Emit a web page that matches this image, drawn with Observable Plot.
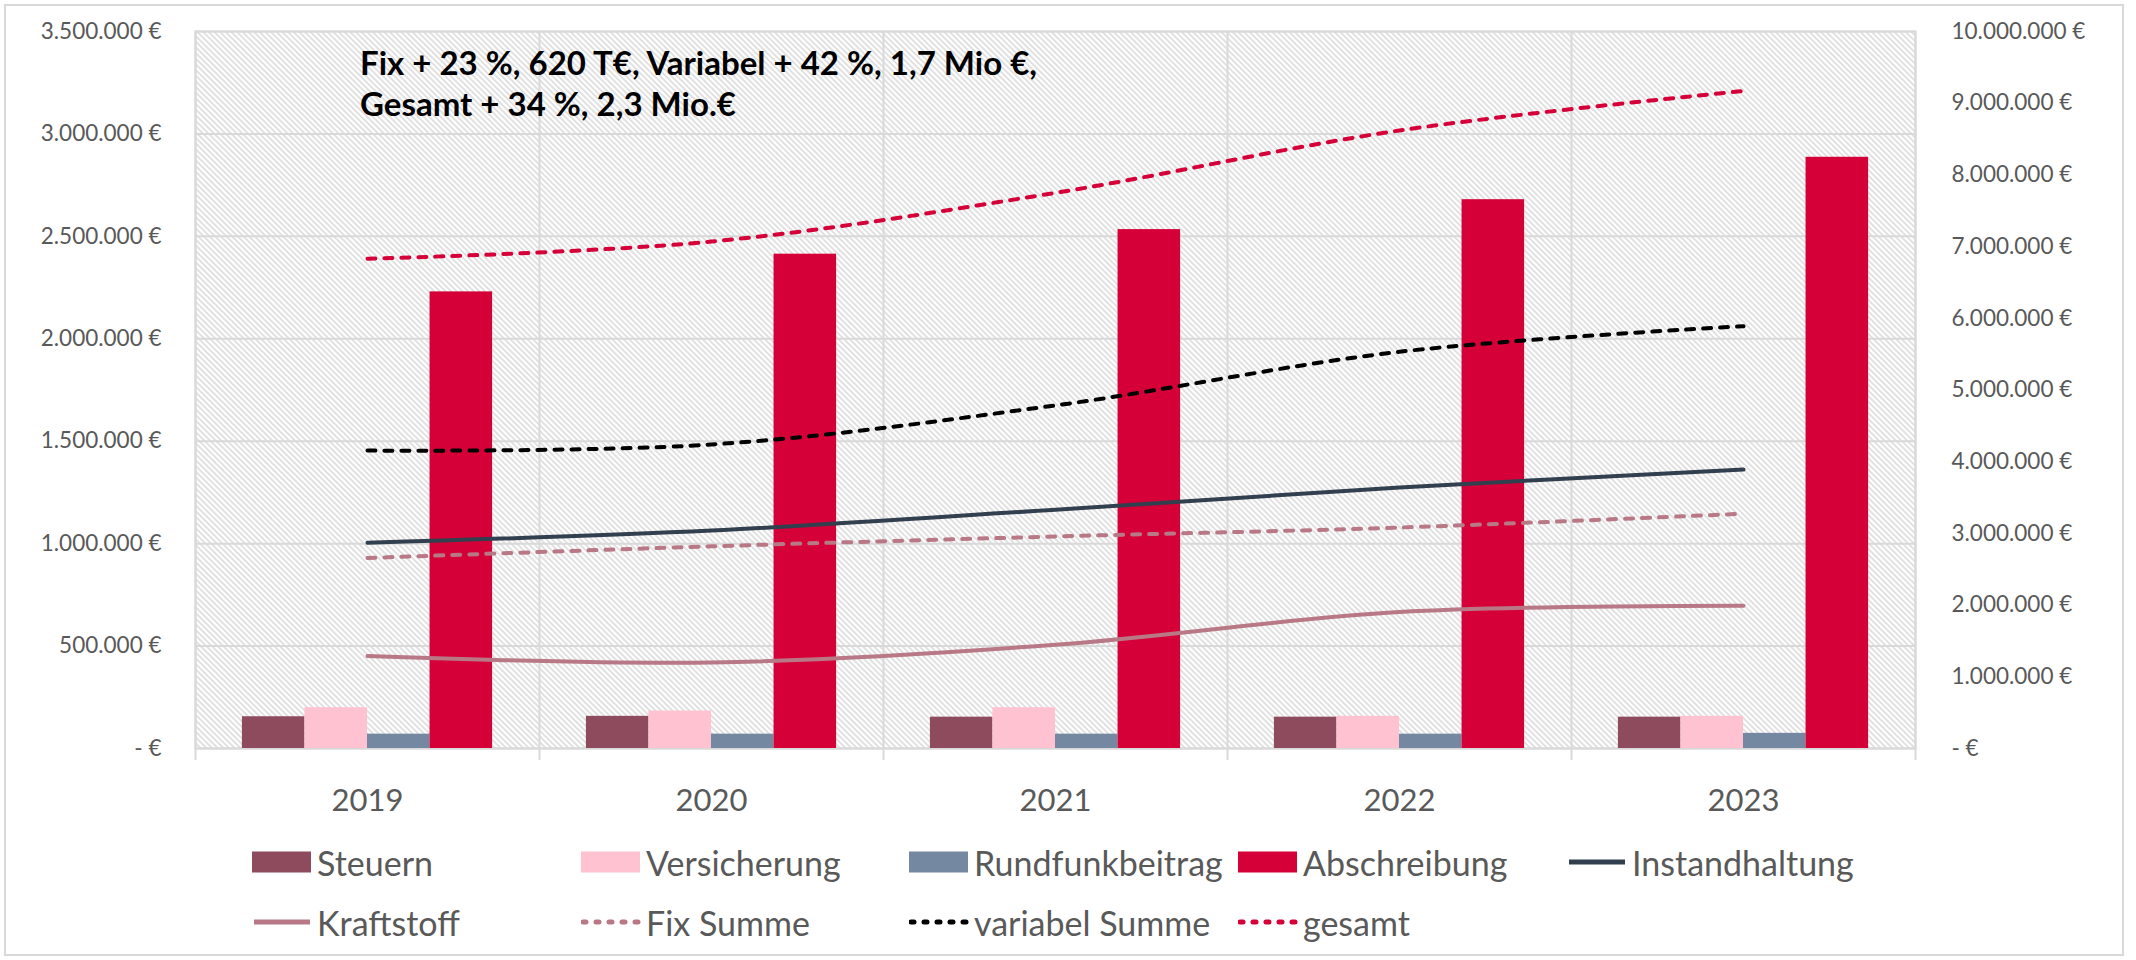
<!DOCTYPE html>
<html>
<head>
<meta charset="utf-8">
<script src="https://cdn.jsdelivr.net/npm/d3@7"></script>
<script src="https://cdn.jsdelivr.net/npm/@observablehq/plot@0.6"></script>
<style>
  body { margin: 0; background: #fff; }
  #chart { position: relative; width: 2136px; height: 960px; font-family: Lato, "Open Sans", sans-serif; overflow: hidden; }
  #border { position: absolute; left: 4px; top: 4px; width: 2120px; height: 952px; border: 2px solid #d9d9d9; box-sizing: border-box; }
  #plot { position: absolute; left: 0; top: 0; }
  #title { position: absolute; left: 360px; top: 42px; font-family: Lato, sans-serif; font-weight: bold; font-size: 33px; line-height: 41px; color: #000; white-space: nowrap; }
  .item { position: absolute; display: flex; align-items: center; height: 40px; font-size: 34px; color: #595959; white-space: nowrap; }
  .item svg { margin-right: 5px; flex: none; }
</style>
</head>
<body>
<div id="chart">
  <div id="border"></div>
  <div id="plot"></div>
  <div id="title">Fix + 23 %, 620 T€, Variabel + 42 %, 1,7 Mio €,<br>Gesamt + 34 %, 2,3 Mio.€</div>
  <div id="legend"></div>
</div>
<script>
// ---- data ----
const years = ["2019", "2020", "2021", "2022", "2023"];
// bars, left axis (€)
const steuern         = [155000, 157000, 153000, 153000, 153000];
const versicherung    = [199000, 183000, 199000, 157000, 157000];
const rundfunkbeitrag = [70000, 70000, 70000, 70000, 74000];
const abschreibung    = [2229000, 2413000, 2533000, 2679000, 2886000];
// lines, right axis (€)
const instandhaltung  = [2870000, 3040000, 3330000, 3640000, 3890000];
const kraftstoff      = [1290000, 1200000, 1447000, 1903000, 1990000];
const fixSumme        = [2657000, 2820000, 2957000, 3082000, 3275000];
const variabelSumme   = [4155000, 4240000, 4785000, 5533000, 5890000];
const gesamt          = [6830000, 7070000, 7750000, 8620000, 9170000];
// axis ticks
const leftTicks  = [0, 500000, 1000000, 1500000, 2000000, 2500000, 3000000, 3500000];
const rightTicks = [0, 1000000, 2000000, 3000000, 4000000, 5000000, 6000000, 7000000, 8000000, 9000000, 10000000];

// ---- styles ----
const barSeries = [
  {name: "Steuern", values: steuern, color: "#8E4B5E"},
  {name: "Versicherung", values: versicherung, color: "#FFC2D1"},
  {name: "Rundfunkbeitrag", values: rundfunkbeitrag, color: "#7489A1"},
  {name: "Abschreibung", values: abschreibung, color: "#D50037"}
];
const lineSeries = [
  {name: "Instandhaltung", values: instandhaltung, color: "#323F4F", dash: null},
  {name: "Kraftstoff", values: kraftstoff, color: "#B87885", dash: null},
  {name: "Fix Summe", values: fixSumme, color: "#B87885", dash: "8,9"},
  {name: "variabel Summe", values: variabelSumme, color: "#000000", dash: "8,9"},
  {name: "gesamt", values: gesamt, color: "#D50037", dash: "8,9"}
];

const leftMax = d3.max(leftTicks), rightMax = d3.max(rightTicks);
const ratio = leftMax / rightMax; // maps secondary axis onto primary scale
const de = d3.formatLocale({decimal: ",", thousands: ".", grouping: [3], currency: ["", " €"]});
const num = de.format(",.0f");
const euro = v => (Math.abs(v) < 0.5 ? "- €" : num(v) + " €");

const gap = 1.5; // Excel gap width 150 %
const w = 1 / (barSeries.length + gap);
const idx = years.map((_, i) => i);
const boundaries = d3.range(years.length + 1).map(i => i - 0.5);

const defsMark = () => {
  const defs = d3.create("svg:defs");
  const p = defs.append("pattern").attr("id", "hatch").attr("patternUnits", "userSpaceOnUse")
    .attr("width", 4).attr("height", 4).attr("patternTransform", "rotate(-45)");
  p.append("rect").attr("width", 4).attr("height", 4).attr("fill", "#ffffff");
  p.append("line").attr("x1", 1).attr("y1", 0).attr("x2", 1).attr("y2", 4)
    .attr("stroke", "#d2d2d2").attr("stroke-width", 1.3);
  return defs.node();
};

const barMarks = barSeries.map((s, j) => Plot.rect(idx, {
  x1: i => i - 0.5 + (gap / 2 + j) * w,
  x2: i => i - 0.5 + (gap / 2 + j + 1) * w,
  y1: 0,
  y2: i => s.values[i],
  fill: s.color
}));

const lineMarks = lineSeries.map(s => Plot.line(idx, {
  x: i => i,
  y: i => s.values[i] * ratio,
  stroke: s.color,
  strokeWidth: 4,
  strokeDasharray: s.dash,
  strokeLinecap: "round",
  curve: "catmull-rom"
}));

const H = 835;
const chart = Plot.plot({
  width: 2136,
  height: H,
  marginLeft: 195,
  marginRight: 221,
  marginTop: 31,
  marginBottom: H - 748,
  x: {type: "linear", domain: [-0.5, years.length - 0.5], axis: null},
  y: {domain: [0, leftMax], axis: null},
  style: {fontFamily: "Lato, 'Open Sans', sans-serif", color: "#595959", background: "transparent", overflow: "visible"},
  marks: [
    defsMark,
    Plot.frame({fill: "url(#hatch)", stroke: null}),
    Plot.gridY(leftTicks, {stroke: "#d9d9d9", strokeOpacity: 1, strokeWidth: 2}),
    Plot.gridX(boundaries, {stroke: "#d9d9d9", strokeOpacity: 1, strokeWidth: 2}),
    Plot.axisX(boundaries, {anchor: "bottom", tickSize: 12, tickFormat: () => "", stroke: "#d9d9d9", strokeWidth: 2}),
    Plot.axisX(idx, {anchor: "bottom", tickSize: 0, tickPadding: 40, tickFormat: i => years[i], fontSize: 31, fill: "#595959"}),
    Plot.axisY(leftTicks, {anchor: "left", tickSize: 0, tickPadding: 34, tickFormat: euro, fontSize: 22.5, fill: "#595959"}),
    Plot.axisY(rightTicks.map(v => v * ratio), {anchor: "right", tickSize: 0, tickPadding: 36, tickFormat: d => euro(Math.round(d / ratio)), fontSize: 22.5, fill: "#595959"}),
    Plot.frame({stroke: "#d9d9d9", strokeWidth: 2}),
    ...barMarks,
    ...lineMarks
  ]
});
document.getElementById("plot").appendChild(chart);

// ---- legend ----
const legendItems = [
  ...barSeries.map(s => ({...s, kind: "bar"})),
  ...lineSeries.map(s => ({...s, kind: "line"}))
];
const colLeft = [252, 581, 909, 1238, 1567];
const rowTop = [842, 902];
const legend = document.getElementById("legend");
legendItems.forEach((s, k) => {
  const div = document.createElement("div");
  div.className = "item";
  div.style.left = colLeft[k % 5] + "px";
  div.style.top = rowTop[Math.floor(k / 5)] + "px";
  const sw = d3.create("svg").attr("width", 60).attr("height", 40);
  if (s.kind === "bar") {
    sw.append("rect").attr("x", 0).attr("y", 9.5).attr("width", 59).attr("height", 21).attr("fill", s.color);
  } else {
    sw.append("line").attr("x1", 2).attr("x2", 58).attr("y1", 20).attr("y2", 20)
      .attr("stroke", s.color).attr("stroke-width", 5).attr("stroke-linecap", s.dash ? "round" : "butt")
      .attr("stroke-dasharray", s.dash ? "3,10" : null);
  }
  div.appendChild(sw.node());
  const t = document.createElement("span");
  t.textContent = s.name;
  div.appendChild(t);
  legend.appendChild(div);
});
</script>
</body>
</html>
